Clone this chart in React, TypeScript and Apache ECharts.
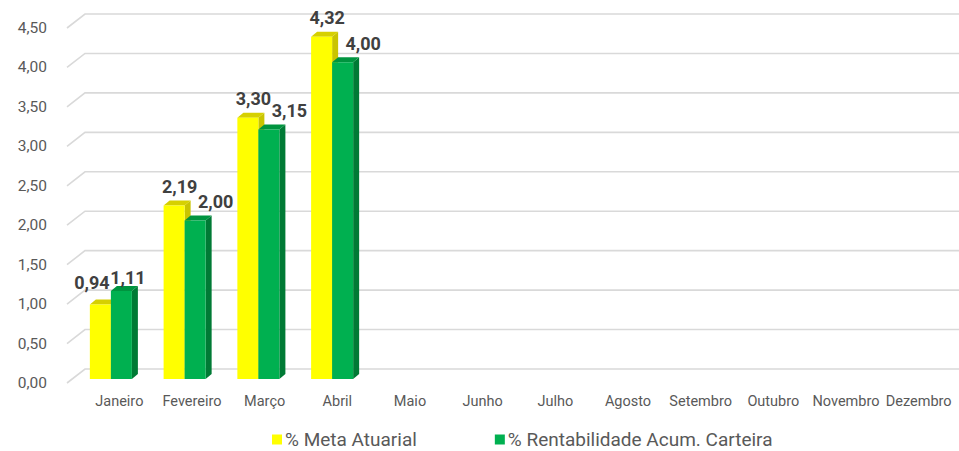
import React, { useEffect, useRef } from "react";
import * as echarts from "echarts";

const MONTHS = ["Janeiro", "Fevereiro", "Março", "Abril", "Maio", "Junho", "Julho", "Agosto", "Setembro", "Outubro", "Novembro", "Dezembro"];
const META = [0.94, 2.19, 3.3, 4.32];
const RENT = [1.11, 2.0, 3.15, 4.0];
const SERIES_NAMES = ["% Meta Atuarial", "% Rentabilidade Acum. Carteira"];
const Y_MIN = 0;
const Y_MAX = 4.5;
const Y_STEP = 0.5;

const fmt = (v: number) => v.toFixed(2).replace(".", ",");

const DX = 6;
const DY = -5;

const COLORS = [
  { front: "#FFFF00", side: "#C9C400", top: "#D6D000" },
  { front: "#00B050", side: "#007A35", top: "#00943F" },
];

function makeBarRender(which: number) {
  return (params: any, api: any) => {
    const i = api.value(0);
    const v = api.value(1);
    const base = api.coord([i, 0]);
    const top = api.coord([i, v]);
    const band = api.size([1, 0])[0];
    const bw = band * 0.285;
    const x0 = which === 0 ? base[0] - bw : base[0];
    const x1 = x0 + bw;
    const yT = top[1];
    const yB = base[1];
    const c = COLORS[which];
    const m = META[i];
    const r = RENT[i];
    let lx: number;
    let ly = yT + DY - 14;
    if (m >= r) {
      lx = which === 0 ? base[0] - 5 : base[0] + 31;
    } else {
      lx = which === 0 ? base[0] - 19 : base[0] + 17;
      ly = which === 0 ? yT + DY - 17 : yT + DY - 9;
    }
    return {
      type: "group",
      children: [
        {
          type: "polygon",
          shape: { points: [[x1, yT], [x1 + DX, yT + DY], [x1 + DX, yB + DY], [x1, yB]] },
          style: { fill: c.side },
        },
        {
          type: "polygon",
          shape: { points: [[x0, yT], [x0 + DX, yT + DY], [x1 + DX, yT + DY], [x1, yT]] },
          style: { fill: c.top },
        },
        {
          type: "rect",
          shape: { x: x0, y: yT, width: bw, height: yB - yT },
          style: { fill: c.front },
        },
        {
          type: "text",
          x: lx,
          y: ly,
          z2: 10,
          style: {
            text: fmt(v),
            fill: "#404040",
            fontSize: 18,
            fontWeight: "bold",
            fontFamily: "Roboto",
            align: "center",
            verticalAlign: "middle",
          },
        },
      ],
    };
  };
}

export default function App() {
  const ref = useRef<HTMLDivElement>(null);
  useEffect(() => {
    if (!ref.current) return;
    const chart = echarts.init(ref.current, undefined, { renderer: "svg" });
    const ticks: number[] = [];
    for (let t = Y_MIN; t <= Y_MAX + 1e-9; t += Y_STEP) ticks.push(Math.round(t * 100) / 100);

    chart.setOption({
      animation: false,
      backgroundColor: "#ffffff",
      textStyle: { fontFamily: "Roboto" },
      legend: {
        data: SERIES_NAMES,
        left: 267,
        top: 425,
        icon: "rect",
        itemWidth: 10,
        itemHeight: 10,
        itemGap: 78,
        textStyle: { color: "#595959", fontSize: 19, fontFamily: "Roboto", padding: [0, 0, 0, -2] },
      },
      grid: [
        { left: 83, right: 4, top: 28, height: 355 },
        { left: 74, right: -5, top: 22.6, height: 356.4 },
      ],
      xAxis: [
        {
          type: "category",
          gridIndex: 0,
          data: MONTHS,
          axisLine: { show: false },
          axisTick: { show: false },
          axisLabel: { color: "#595959", fontSize: 14.5, margin: 11, interval: 0, fontFamily: "Roboto" },
          splitLine: { show: false },
        },
        {
          type: "category",
          gridIndex: 1,
          data: MONTHS,
          show: false,
        },
      ],
      yAxis: [
        {
          type: "value",
          gridIndex: 0,
          min: Y_MIN,
          max: Y_MAX,
          interval: Y_STEP,
          axisLine: { show: false },
          axisTick: { show: false },
          splitLine: { show: false },
          axisLabel: { color: "#595959", fontSize: 15.5, margin: 36, formatter: (v: number) => fmt(v), fontFamily: "Roboto" },
        },
        {
          type: "value",
          gridIndex: 1,
          min: Y_MIN,
          max: Y_MAX,
          interval: Y_STEP,
          show: false,
        },
      ],
      series: [
        {
          type: "custom",
          name: "grid",
          xAxisIndex: 0,
          yAxisIndex: 0,
          silent: true,
          z: 0,
          data: ticks.map((t) => [0, t]),
          renderItem: (params: any, api: any) => {
            const y = api.coord([0, api.value(1)])[1];
            const left = params.coordSys.x;
            const W = api.getWidth();
            return {
              type: "polyline",
              shape: { points: [[left - 16, y], [left + 2, y - 14], [W, y - 14]] },
              style: { stroke: "#D9D9D9", lineWidth: 1.6, fill: "none" },
            };
          },
        },
        {
          type: "custom",
          name: SERIES_NAMES[0],
          xAxisIndex: 1,
          yAxisIndex: 1,
          z: 2,
          itemStyle: { color: COLORS[0].front },
          data: META.map((v, i) => [i, v]),
          renderItem: makeBarRender(0),
        },
        {
          type: "custom",
          name: SERIES_NAMES[1],
          xAxisIndex: 1,
          yAxisIndex: 1,
          z: 3,
          itemStyle: { color: COLORS[1].front },
          data: RENT.map((v, i) => [i, v]),
          renderItem: makeBarRender(1),
        },
      ],
    });
    return () => chart.dispose();
  }, []);
  return <div ref={ref} style={{ position: "fixed", left: 0, top: 0, width: 959, height: 451 }} />;
}
